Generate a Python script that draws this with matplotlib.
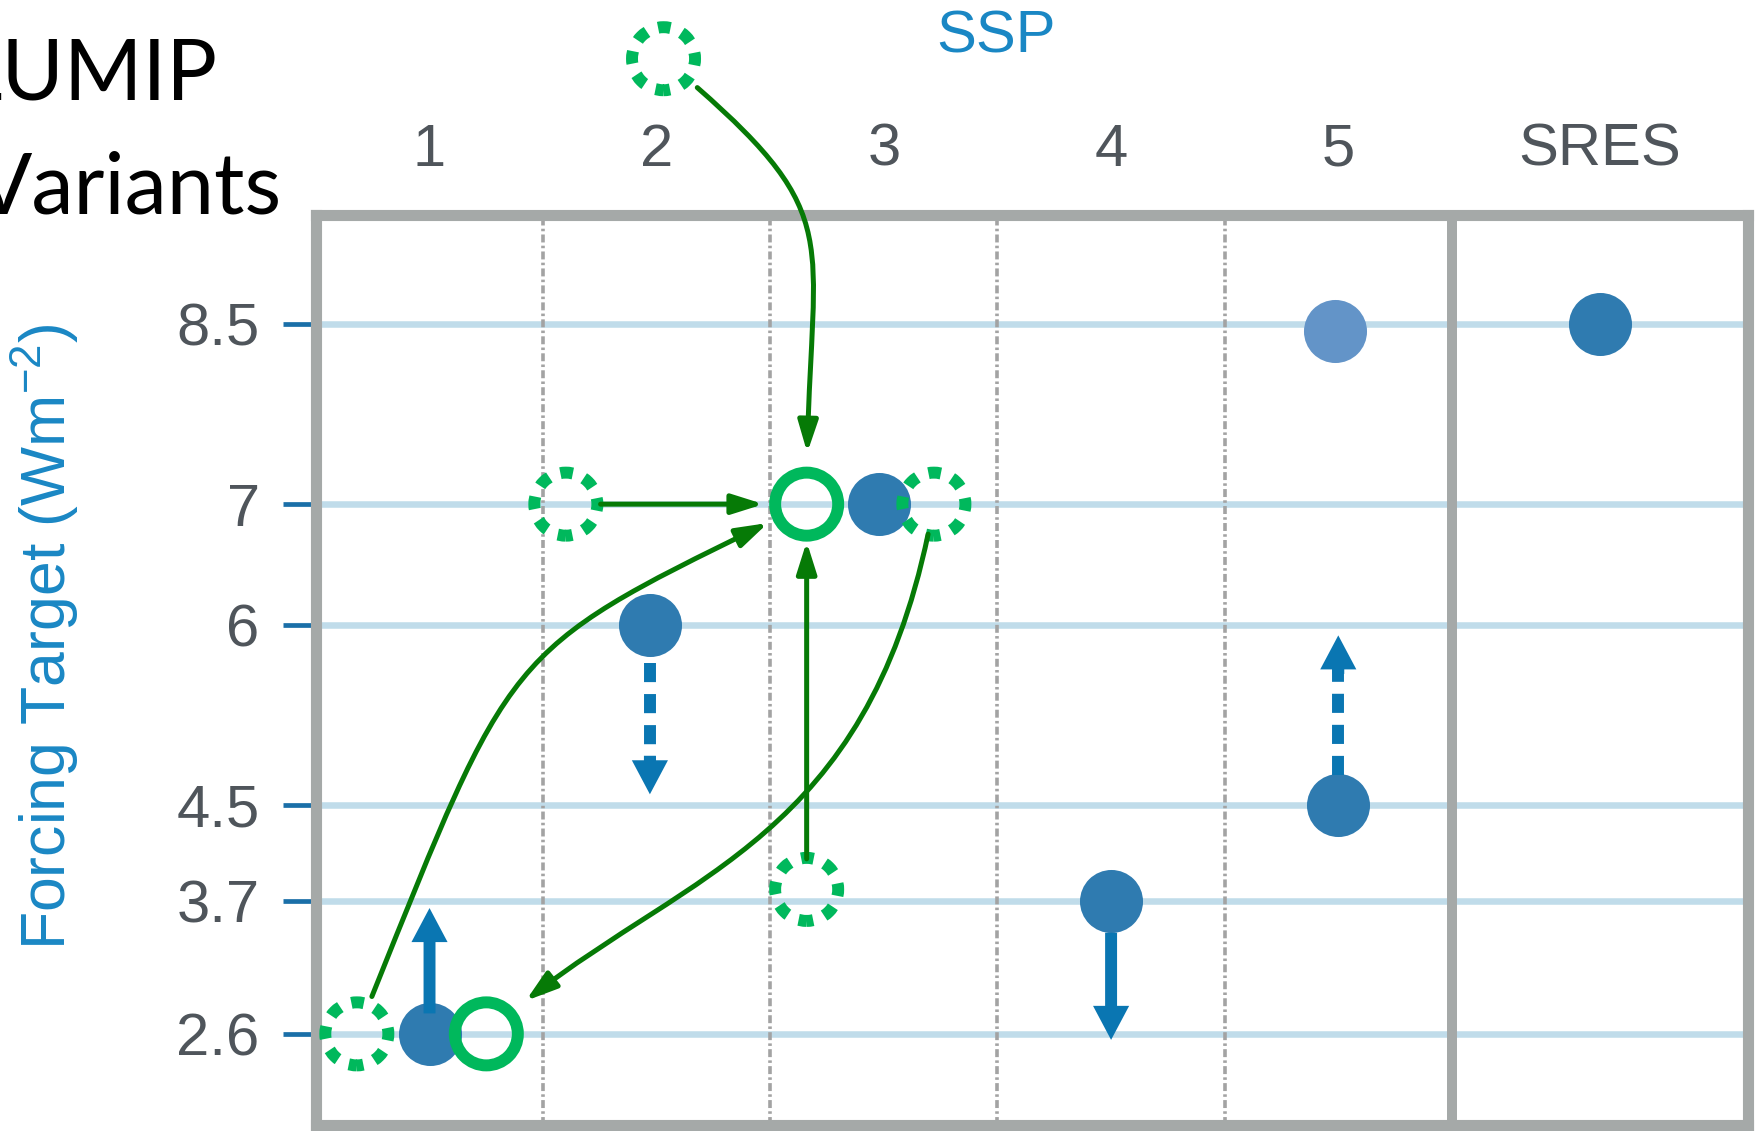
import numpy as np
import matplotlib
matplotlib.use('Agg')
import matplotlib.pyplot as plt
from matplotlib.patches import ArrowStyle, ConnectionStyle
from matplotlib.path import Path

plt.rcParams['font.family'] = 'Liberation Sans'
plt.rcParams['mathtext.fontset'] = 'custom'
plt.rcParams['mathtext.rm'] = 'Liberation Sans'
plt.rcParams['mathtext.it'] = 'Liberation Sans:italic'

## categories and forcing levels
ssp_labels = ['1', '2', '3', '4', '5', 'SRES']
ssp_pos = [1, 2, 3, 4, 5, 6.15]
levels = [2.6, 3.7, 4.5, 6, 7, 8.5]
level_labels = ['2.6', '3.7', '4.5', '6', '7', '8.5']

## ScenarioMIP points (blue)
blue_x = [1.0, 1.97, 2.98, 4.0, 5.0, 6.15]
blue_y = [2.6, 6, 7, 3.7, 4.5, 8.5]
light_x = [4.985]
light_y = [8.44]

# blue arrows: column, from, to, dashed
arrow_x = [1.0, 1.97, 4.0, 5.0]
arrow_from = [2.77, 5.68, 3.44, 4.75]
arrow_to = [3.645, 4.59, 2.55, 5.91]
arrow_dashed = [False, True, False, True]

## LUMIP variants (green)
ring_x = [2.66, 1.25]
ring_y = [7, 2.6]
dash_x = [2.03, 1.6, 3.22, 2.66, 0.68]
dash_y = [10.70, 7, 7, 3.8, 2.6]

# links: dashed index -> ring index, bend (angleA, angleB, fa, fb) or None, shrinkA, shrinkB
links = [
    (0, 0, (-40, 90, 0.55, 0.6), 32, 37),
    (1, 0, None, 25, 31),
    (3, 0, None, 22, 27),
    (4, 0, (68, 206, 0.62, 0.5), 29, 31),
    (2, 1, (-100, 42, 0.52, 0.35), 22, 37),
]

frame_col = '#a5a9a8'
text_col = '#4f555b'
title_blue = '#1a87c4'
dot_blue = '#2f7bb0'
light_blue = '#6394c8'
arrow_blue = '#0a76b2'
ring_green = '#00b85c'
link_green = '#067a06'


class Bend(ConnectionStyle._Base):
    """cubic bezier leaving A at angleA and entering B from angleB"""
    def __init__(self, angleA, angleB, fa, fb):
        self.angleA, self.angleB, self.fa, self.fb = angleA, angleB, fa, fb

    def connect(self, posA, posB):
        (x1, y1), (x2, y2) = posA, posB
        d = np.hypot(x2 - x1, y2 - y1)
        a, b = np.radians(self.angleA), np.radians(self.angleB)
        c1 = (x1 + self.fa * d * np.cos(a), y1 + self.fa * d * np.sin(a))
        c2 = (x2 + self.fb * d * np.cos(b), y2 + self.fb * d * np.sin(b))
        return Path([posA, c1, c2, posB],
                    [Path.MOVETO, Path.CURVE4, Path.CURVE4, Path.CURVE4])


fig = plt.figure(figsize=(17.62, 11.31), dpi=100)
ax = fig.add_axes([0.1793, 0.0053, 0.8127, 0.8042])
ax.set_xlim(0.5, 6.803)
ax.set_ylim(1.843, 9.398)

# frame
for s in ax.spines.values():
    s.set_color(frame_col)
    s.set_linewidth(8)
    s.set_capstyle('projecting')
for xv in np.arange(1.5, 5.5):
    ax.axvline(xv, color='#a3a3a3', lw=2.6, ls=(0, (2.2, 0.9, 0.7, 0.9)), zorder=1.5)
ax.axvline(len(ssp_labels) - 0.5, color=frame_col, lw=7.2, zorder=2.5)

# axes text
ax.set_yticks(levels, level_labels)
ax.tick_params(axis='y', length=24, width=3.4, color='#1a6fa8', pad=16.5,
               labelsize=43, labelcolor=text_col)
ax.xaxis.tick_top()
ax.set_xticks(ssp_pos, ssp_labels)
ax.tick_params(axis='x', length=0, pad=27, labelsize=43, labelcolor=text_col)
ax.grid(axis='y', color='#c0dcea', lw=4.7)
ax.set_axisbelow(True)

ax.set_xlabel('SSP', fontsize=43, color=title_blue)
ax.xaxis.set_label_position('top')
ax.xaxis.set_label_coords(0.475, 1.196)
ax.xaxis.label.set_va('center')
ax.set_ylabel('Forcing Target (Wm$^{-2}$)', fontsize=45, color=title_blue)
ax.yaxis.set_label_coords(-0.189, 0.5366)
ax.yaxis.label.set_va('center')

# blue dots and arrows
ax.scatter(blue_x, blue_y, s=2060, color=dot_blue, linewidths=0, zorder=3)
ax.scatter(light_x, light_y, s=2060, color=light_blue, linewidths=0, zorder=3)

head = ArrowStyle.Simple(head_length=24.5, head_width=26, tail_width=8.6)
for x, y0, y1, dashed in zip(arrow_x, arrow_from, arrow_to, arrow_dashed):
    sign = np.sign(y1 - y0)
    start = y0
    if dashed:
        ax.plot([x, x], [y0, y1 - sign * 0.26], color=arrow_blue, lw=8.6,
                dashes=(1.6, 1.0), zorder=4)
        start = y1 - sign * 0.32
    ax.annotate('', xy=(x, y1), xytext=(x, start),
                arrowprops=dict(arrowstyle=head, mutation_scale=1, fc=arrow_blue,
                                ec='none', lw=0, shrinkA=0, shrinkB=0), zorder=4)

# green circles
ax.scatter(ring_x, ring_y, s=2060, facecolors='none', edgecolors=ring_green,
           linewidths=8.6, zorder=5)
ax.scatter(dash_x, dash_y, s=2060, facecolors='none', edgecolors=ring_green,
           linewidths=8.6, linestyle=(0.5, (1.05, 1.0)), zorder=5, clip_on=False)

# green links
for i, j, bend, sa, sb in links:
    conn = 'arc3,rad=0' if bend is None else Bend(*bend)
    ax.annotate('', xy=(ring_x[j], ring_y[j]), xytext=(dash_x[i], dash_y[i]),
                arrowprops=dict(arrowstyle=ArrowStyle('-|>', head_length=19, head_width=6),
                                mutation_scale=1, color=link_green, lw=3.6,
                                shrinkA=sa, shrinkB=sb, connectionstyle=conn),
                annotation_clip=False, zorder=6)

# title, partly cut at the left edge as in the slide
fig.text(217 / 1762, 1 - 100 / 1131, 'LUMIP', ha='right', va='baseline',
         fontsize=61, family='Lato', color='black')
fig.text(282 / 1762, 1 - 213 / 1131, 'Variants', ha='right', va='baseline',
         fontsize=61, family='Lato', color='black')

fig.savefig('out.png', dpi=100)
